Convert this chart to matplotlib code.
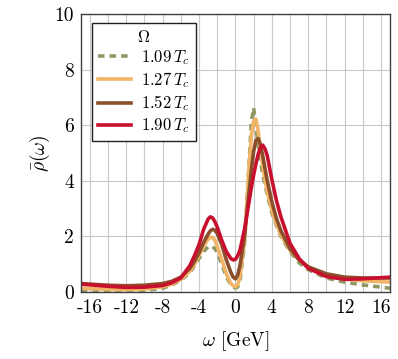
import matplotlib
matplotlib.use("Agg")
import matplotlib.pyplot as plt

plt.rcParams['font.family'] = 'serif'
plt.rcParams['font.serif'] = ['cmr10', 'DejaVu Serif']
plt.rcParams['mathtext.fontset'] = 'cm'
plt.rcParams['axes.unicode_minus'] = False

omega = [-17, -14, -12, -10, -8, -7, -6, -5, -4.5, -4, -3.5, -3, -2.75, -2.5, -2.25, -2, -1.5, -1,
         -0.5, -0.25, 0, 0.25, 0.5, 1, 1.5, 1.75, 2, 2.25, 2.5, 2.75, 3, 3.25, 3.5, 4, 4.5, 5,
         6, 7, 8, 10, 12, 14, 17]

rho_109 = [0.03, 0.02, 0.02, 0.05, 0.13, 0.25, 0.42, 0.7, 0.95, 1.2, 1.45, 1.62, 1.65, 1.63, 1.55, 1.42, 1.0, 0.55,
           0.25, 0.17, 0.14, 0.18, 0.4, 1.7, 4.6, 6.1, 6.62, 5.95, 5.3, 4.7, 4.25, 3.85, 3.5, 2.85, 2.4, 2.0,
           1.45, 1.05, 0.8, 0.5, 0.35, 0.25, 0.13]
rho_127 = [0.13, 0.09, 0.08, 0.1, 0.18, 0.28, 0.45, 0.75, 1.0, 1.3, 1.65, 1.9, 1.97, 1.95, 1.85, 1.65, 1.15, 0.65,
           0.3, 0.22, 0.18, 0.25, 0.55, 1.85, 4.5, 5.6, 6.15, 6.22, 5.8, 5.15, 4.55, 4.05, 3.6, 2.95, 2.45, 2.05,
           1.5, 1.15, 0.9, 0.6, 0.46, 0.4, 0.35]
rho_152 = [0.3, 0.24, 0.22, 0.24, 0.3, 0.38, 0.53, 0.85, 1.1, 1.4, 1.78, 2.08, 2.2, 2.25, 2.22, 2.1, 1.7, 1.15,
           0.7, 0.53, 0.47, 0.6, 0.95, 2.0, 3.6, 4.4, 5.05, 5.45, 5.52, 5.3, 4.9, 4.45, 4.0, 3.25, 2.65, 2.2,
           1.55, 1.15, 0.9, 0.65, 0.53, 0.5, 0.5]
rho_190 = [0.28, 0.2, 0.16, 0.17, 0.23, 0.33, 0.5, 0.95, 1.3, 1.7, 2.25, 2.62, 2.7, 2.66, 2.52, 2.33, 1.85, 1.45,
           1.2, 1.15, 1.17, 1.3, 1.5, 2.25, 3.25, 3.75, 4.2, 4.6, 4.95, 5.2, 5.28, 5.15, 4.9, 4.05, 3.3, 2.7,
           1.75, 1.2, 0.85, 0.55, 0.45, 0.47, 0.53]

labels = [r'$1.09\,T_c$', r'$1.27\,T_c$', r'$1.52\,T_c$', r'$1.90\,T_c$']
xticks = [-16, -12, -8, -4, 0, 4, 8, 12, 16]
yticks = [0, 2, 4, 6, 8, 10]

fig = plt.figure(figsize=(3.98, 3.59), dpi=100)
ax = fig.add_axes([0.203, 0.187, 0.777, 0.774])

ax.plot(omega, rho_109, color='#8e9862', lw=2.6, ls=(0, (1.8, 1.4)), label=labels[0])
ax.plot(omega, rho_127, color='#f2b567', lw=2.6, label=labels[1])
ax.plot(omega, rho_152, color='#8a4f2a', lw=2.6, label=labels[2])
ax.plot(omega, rho_190, color='#c8102e', lw=2.6, label=labels[3])

ax.set_xlim(-17, 17)
ax.set_ylim(0, 10)
ax.set_xticks(xticks)
ax.set_xticklabels([str(t) for t in xticks])
ax.set_xticks(range(-16, 17, 2), minor=True)
ax.set_yticks(yticks)
ax.set_yticklabels([str(t) for t in yticks])
ax.grid(True, which='both', axis='x', color='#c8c8c8', lw=0.8)
ax.grid(True, which='major', axis='y', color='#c8c8c8', lw=0.8)
ax.set_axisbelow(True)
ax.tick_params(which='both', length=0, labelsize=14, pad=5)
for s in ax.spines.values():
    s.set_color('#404040')
    s.set_linewidth(1.0)

ax.set_xlabel(r'$\omega$ [GeV]', fontsize=14, labelpad=9)
ax.set_ylabel(r'$\bar{\rho}(\omega)$', fontsize=14, labelpad=2)

leg = ax.legend(title=r'$\Omega$', loc='upper left', bbox_to_anchor=(0.036, 0.968),
                borderaxespad=0, fontsize=12, title_fontsize=12, fancybox=False,
                edgecolor='#202020', framealpha=1, handlelength=2.0, handletextpad=0.6,
                labelspacing=0.2, borderpad=0.35)
leg.get_frame().set_linewidth(1.0)

fig.savefig('out.png', dpi=100)
